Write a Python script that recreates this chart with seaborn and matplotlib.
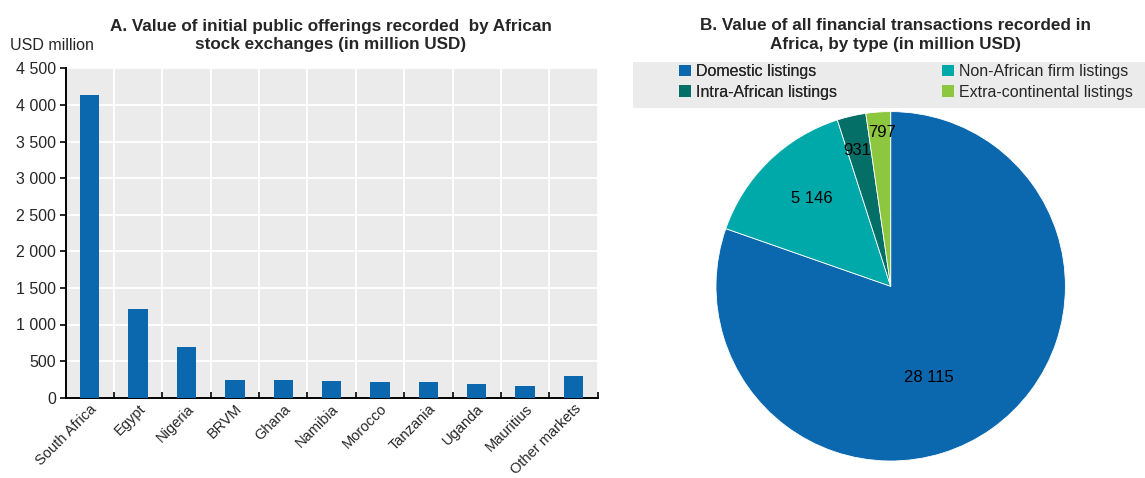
import matplotlib
matplotlib.use("Agg")
import matplotlib.pyplot as plt
import seaborn as sns
import numpy as np
import pandas as pd
from matplotlib.patches import Rectangle, Patch
from matplotlib.ticker import FuncFormatter, MultipleLocator, FixedLocator

# ---- data ----
markets = ["South Africa", "Egypt", "Nigeria", "BRVM", "Ghana", "Namibia",
           "Morocco", "Tanzania", "Uganda", "Mauritius", "Other markets"]
ipo_values = [4140, 1217, 686, 241, 241, 232, 214, 209, 191, 163, 290]

listing_types = ["Domestic listings", "Non-African firm listings",
                 "Intra-African listings", "Extra-continental listings"]
listing_values = [28115, 5146, 931, 797]
listing_labels = ["28 115", "5 146", "931", "797"]

title_a = "A. Value of initial public offerings recorded  by African\nstock exchanges (in million USD)"
title_b = "B. Value of all financial transactions recorded in\nAfrica, by type (in million USD)"
y_unit = "USD million"

# ---- style ----
sns.set_style("whitegrid", {"axes.facecolor": "#EBEBEB", "grid.color": "white"})
FONT = ["Liberation Sans", "DejaVu Sans"]
plt.rcParams["font.family"] = FONT

BLUE = "#0C68AE"
colors = [BLUE, "#00A9A9", "#036F66", "#8DC63F"]

W, H = 1145, 478
fig = plt.figure(figsize=(W / 100, H / 100), dpi=100)

# ---- panel A ----
axl = fig.add_axes([65.5 / W, (H - 397.7) / H, (597.7 - 65.5) / W, (397.7 - 68.3) / H])
df = pd.DataFrame({"market": markets, "value": ipo_values})
sns.barplot(data=df, x="market", y="value", color=BLUE, width=0.4,
            saturation=1, ax=axl, zorder=3, linewidth=0, edgecolor="none")
axl.set_ylim(0, 4500)
axl.set_xlim(-0.5, len(markets) - 0.5)
axl.yaxis.set_major_locator(MultipleLocator(500))
axl.yaxis.set_major_formatter(FuncFormatter(lambda v, p: f"{int(v):,}".replace(",", " ")))
axl.xaxis.set_minor_locator(FixedLocator(np.arange(-0.5, len(markets), 1.0)))
axl.grid(True, which="major", axis="y", color="white", linewidth=1.3, zorder=0)
axl.grid(True, which="minor", axis="x", color="white", linewidth=1.3, zorder=0)
axl.grid(False, which="major", axis="x")
axl.set_axisbelow(True)
for s in ["top", "right"]:
    axl.spines[s].set_visible(False)
for s in ["left", "bottom"]:
    axl.spines[s].set_visible(True)
    axl.spines[s].set_color("black")
    axl.spines[s].set_linewidth(1.4)
axl.tick_params(axis="y", which="major", direction="out", length=4, width=1.2,
                color="black", labelsize=11.5, left=True, pad=3)
axl.tick_params(axis="x", which="major", length=0, labelsize=10.5, pad=3)
axl.tick_params(axis="x", which="minor", direction="in", length=4, width=1.2,
                color="black", bottom=True)
for lab in axl.get_xticklabels():
    lab.set_rotation(45)
    lab.set_ha("right")
    lab.set_rotation_mode("anchor")
axl.set_xlabel("")
axl.set_ylabel("")
fig.text(10 / W, (H - 45) / H, y_unit, fontsize=11.5, va="center", ha="left")
fig.text(331 / W, (H - 35) / H, title_a, fontsize=12.3, fontweight="bold",
         ha="center", va="center", linespacing=1.25)

# ---- panel B ----
R = 174.7
cx, cy = 890.7, 286.3
axp = fig.add_axes([(cx - R) / W, (H - cy - R) / H, 2 * R / W, 2 * R / H])
wedges, _ = axp.pie(listing_values, colors=colors, startangle=90,
                    counterclock=False, radius=1,
                    wedgeprops={"linewidth": 0.6, "edgecolor": "white"})
axp.set_xlim(-1, 1)
axp.set_ylim(-1, 1)
axp.set_aspect("equal")
axp.axis("off")

# label placement: radial distance and angular shift relative to wedge middle
label_dist = [0.565, 0.675, 0.80, 0.88]
label_shift = [-12.5, -2.4, 0.7, -0.8]
for w, lab, d, sh in zip(wedges, listing_labels, label_dist, label_shift):
    ang = np.deg2rad((w.theta1 + w.theta2) / 2 + sh)
    axp.text(d * np.cos(ang), d * np.sin(ang), lab, ha="center", va="center",
             fontsize=12, color="black")

fig.text(895 / W, (H - 35) / H, title_b, fontsize=12.3, fontweight="bold",
         ha="center", va="center", linespacing=1.25)

# legend background
fig.add_artist(Rectangle((633 / W, (H - 108) / H), (W - 633) / W, 46 / H,
                         transform=fig.transFigure, facecolor="#EBEBEB",
                         edgecolor="none", zorder=0))
handles = [Patch(facecolor=c, edgecolor="none") for c in colors]
leg_kw = dict(frameon=False, fontsize=11.5, handlelength=0.75, handleheight=0.75,
              handletextpad=0.3, labelspacing=0.35, borderpad=0, borderaxespad=0)
leg1 = fig.legend([handles[0], handles[2]], [listing_types[0], listing_types[2]],
                  loc="upper left", bbox_to_anchor=(679 / W, (H - 64) / H), **leg_kw)
fig.add_artist(leg1)
fig.legend([handles[1], handles[3]], [listing_types[1], listing_types[3]],
           loc="upper left", bbox_to_anchor=(942 / W, (H - 64) / H), **leg_kw)

fig.savefig("out.png", dpi=100)
